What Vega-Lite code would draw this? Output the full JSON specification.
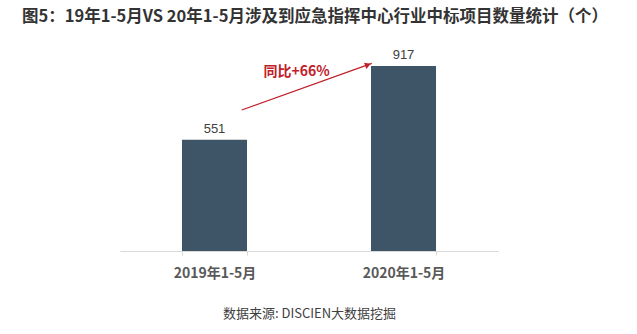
{
  "$schema": "https://vega.github.io/schema/vega-lite/v6.json",
  "autosize": "none",
  "width": 378,
  "height": 185,
  "padding": {"left": 120, "top": 66, "right": 139, "bottom": 83},
  "background": "white",
  "title": {
    "text": "图5：19年1-5月VS 20年1-5月涉及到应急指挥中心行业中标项目数量统计（个）",
    "anchor": "start",
    "frame": "group",
    "dx": -98,
    "offset": 24,
    "font": "Noto Sans CJK SC",
    "fontSize": 16.5,
    "fontWeight": "bold",
    "color": "#333333"
  },
  "config": {
    "view": {"stroke": null},
    "font": "Noto Sans CJK SC"
  },
  "datasets": {
    "bars": [
      {"period": "2019年1-5月", "count": 551},
      {"period": "2020年1-5月", "count": 917}
    ],
    "arrow": [
      {"x1": 0.644, "y1": 699, "x2": 1.332, "y2": 930, "xt": 1.312, "yt": 923, "xl": 0.935, "yl": 889, "label": "同比+66%"}
    ]
  },
  "layer": [
    {
      "data": {"name": "bars"},
      "layer": [
        {
          "mark": {"type": "bar", "color": "#3d5566"},
          "encoding": {
            "x": {
              "field": "period", "type": "nominal", "sort": null,
              "scale": {"paddingInner": 0.656, "paddingOuter": 0.328},
              "axis": {
                "title": "数据来源: DISCIEN大数据挖掘",
                "titleFont": "Noto Sans CJK SC",
                "titleFontSize": 13,
                "titleFontWeight": "normal",
                "titleColor": "#404040",
                "titlePadding": 27,
                "labelAngle": 0,
                "labelFont": "Noto Sans CJK SC",
                "labelFontSize": 14,
                "labelFontWeight": "bold",
                "labelColor": "#595959",
                "labelPadding": 11,
                "domainColor": "#d9d9d9",
                "tickColor": "#d9d9d9",
                "tickSize": 4,
                "tickBand": "extent"
              }
            },
            "y": {
              "field": "count", "type": "quantitative",
              "scale": {"domain": [0, 917], "nice": false},
              "axis": null
            }
          }
        },
        {
          "mark": {"type": "text", "dy": -11, "fontSize": 13, "font": "Liberation Sans", "color": "#404040"},
          "encoding": {
            "x": {"field": "period", "type": "nominal", "sort": null},
            "y": {"field": "count", "type": "quantitative"},
            "text": {"field": "count", "type": "quantitative"}
          }
        }
      ]
    },
    {
      "data": {"name": "arrow"},
      "layer": [
        {
          "mark": {"type": "rule", "color": "#c0202a", "strokeWidth": 1.2},
          "encoding": {
            "x": {"field": "x1", "type": "quantitative", "scale": {"domain": [0, 2], "nice": false, "zero": false}, "axis": null},
            "y": {"field": "y1", "type": "quantitative"},
            "x2": {"field": "x2"},
            "y2": {"field": "y2"}
          }
        },
        {
          "mark": {"type": "point", "shape": "triangle-up", "angle": 70, "filled": true, "color": "#c0202a", "size": 45, "opacity": 1},
          "encoding": {
            "x": {"field": "xt", "type": "quantitative", "scale": {"domain": [0, 2], "nice": false, "zero": false}, "axis": null},
            "y": {"field": "yt", "type": "quantitative"}
          }
        },
        {
          "mark": {"type": "text", "fontSize": 14, "fontWeight": "bold", "color": "#c0202a", "font": "Noto Sans CJK SC"},
          "encoding": {
            "x": {"field": "xl", "type": "quantitative", "scale": {"domain": [0, 2], "nice": false, "zero": false}, "axis": null},
            "y": {"field": "yl", "type": "quantitative"},
            "text": {"field": "label"}
          }
        }
      ]
    }
  ],
  "resolve": {"scale": {"x": "independent"}}
}
